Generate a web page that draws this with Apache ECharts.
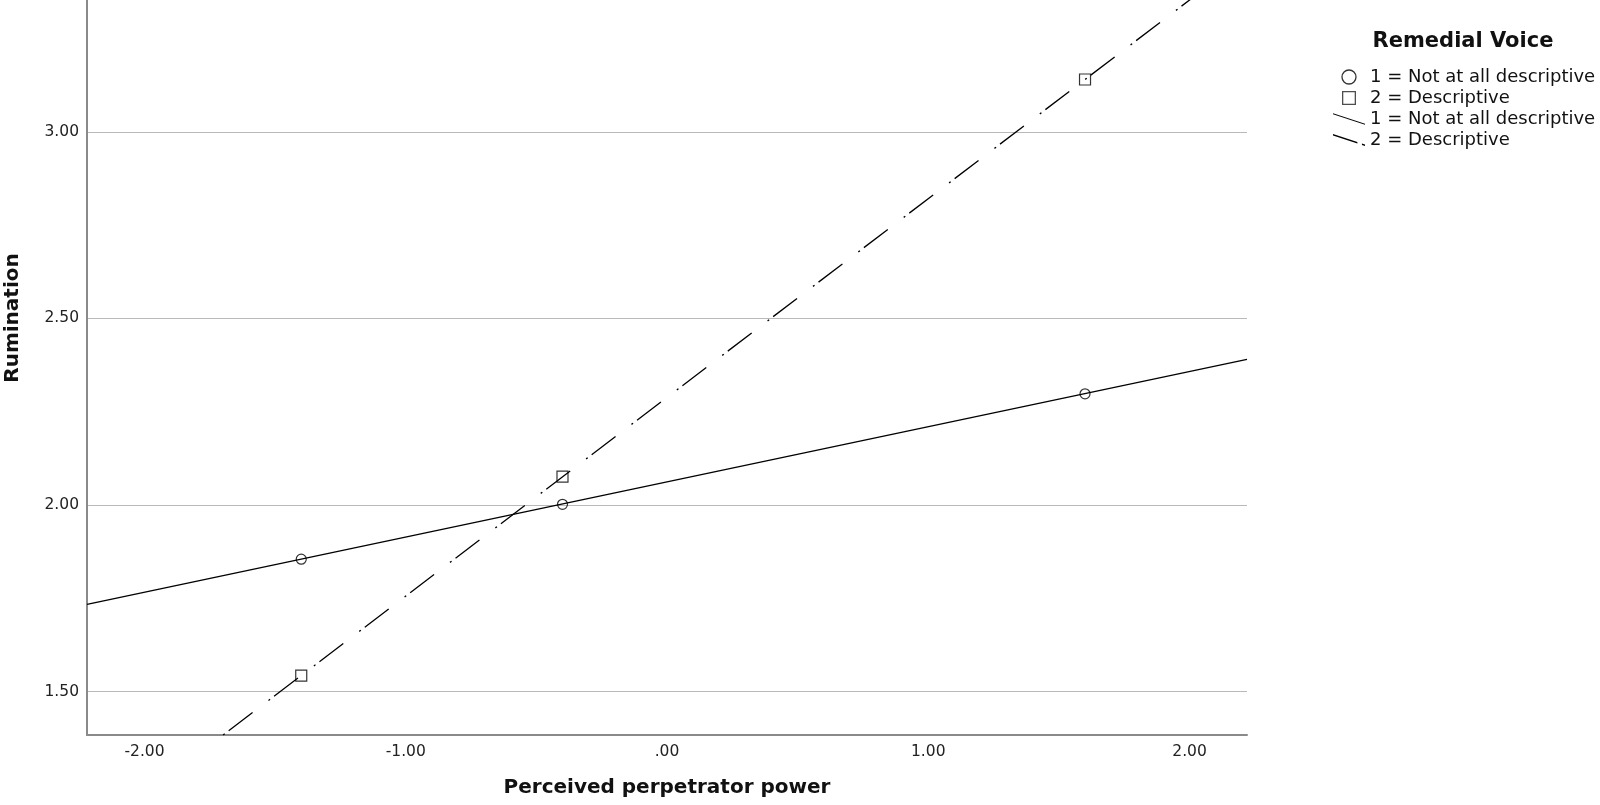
<!DOCTYPE html>
<html>
<head>
<meta charset="utf-8">
<title>Rumination by perceived perpetrator power</title>
<script src="https://cdn.jsdelivr.net/npm/echarts@6/dist/echarts.min.js"></script>
<style>
  html, body { margin: 0; padding: 0; background: #fff; }
  #chart { width: 1600px; height: 805px; }
</style>
</head>
<body>
<div id="chart"></div>
<script>
// values
var pointX = [-1.40, -0.40, 1.60];
var notDescPoints = [1.855, 2.002, 2.298];   // 1 = Not at all descriptive
var descPoints = [1.543, 2.076, 3.140];      // 2 = Descriptive

// fit lines, ends at the x-axis limits
var fitX = [-2.22, 2.22];
var notDescFit = [1.734, 2.390];
var descFit = [1.107, 3.470];

var xRange = [-2.22, 2.22];
var yRange = [1.384, 3.353];

var legendLabels = {
    c1: '1 = Not at all descriptive',
    s2: '2 = Descriptive',
    l1: '1 = Not at all descriptive',
    l2: '2 = Descriptive'
};

function pairs(xs, ys) {
    var out = [];
    for (var i = 0; i < xs.length; i++) out.push([xs[i], ys[i]]);
    return out;
}

var font = 'DejaVu Sans';
var chart = echarts.init(document.getElementById('chart'));

var option = {
    animation: false,
    backgroundColor: '#fff',
    textStyle: { fontFamily: font },
    grid: { left: 87, right: 353, top: 0, bottom: 70, outerBoundsMode: 'none' },
    graphic: [
        {
            type: 'text', x: 1463, y: 42,
            style: {
                text: 'Remedial Voice', fontSize: 21, fontWeight: 'bold', fontFamily: font,
                fill: '#111', align: 'center', verticalAlign: 'middle'
            }
        },
        {
            type: 'text', x: 13, y: 318, rotation: Math.PI / 2,
            style: {
                text: 'Rumination', fontSize: 20, fontWeight: 'bold', fontFamily: font,
                fill: '#111', align: 'center', verticalAlign: 'middle'
            }
        }
    ],
    legend: {
        orient: 'vertical',
        left: 1328,
        top: 63,
        itemWidth: 32,
        itemHeight: 14,
        itemGap: 3,
        symbolKeepAspect: true,
        selectedMode: false,
        textStyle: { fontSize: 18, color: '#111', fontFamily: font },
        formatter: function (name) { return legendLabels[name]; },
        data: [
            { name: 'c1', icon: 'circle', itemStyle: { color: 'rgba(0,0,0,0)', borderColor: '#000', borderWidth: 1.3 } },
            { name: 's2', icon: 'path://M0,0 L14,0 L14,14 L0,14 Z M1.3,1.3 L1.3,12.7 L12.7,12.7 L12.7,1.3 Z', itemStyle: { color: '#222', borderWidth: 0 } },
            { name: 'l1', icon: 'path://M0,0 L35,11.5 L35,12.8 L0,1.3 Z', itemStyle: { color: '#000', borderWidth: 0 } },
            { name: 'l2', icon: 'path://M0,0 L24,7.9 L24,9.2 L0,1.3 Z M28.5,9.4 L31.5,10.4 L31.5,11.7 L28.5,10.7 Z', itemStyle: { color: '#000', borderWidth: 0 } }
        ]
    },
    xAxis: {
        type: 'value',
        min: xRange[0],
        max: xRange[1],
        splitNumber: 5,
        name: 'Perceived perpetrator power',
        nameLocation: 'middle',
        nameGap: 43,
        nameTextStyle: { fontSize: 20, fontWeight: 'bold', color: '#111', fontFamily: font },
        axisLine: { onZero: false, lineStyle: { color: '#8a8a8a', width: 2 } },
        axisTick: { show: false },
        splitLine: { show: false },
        axisLabel: {
            showMinLabel: false,
            showMaxLabel: false,
            margin: 9,
            fontSize: 15.5,
            color: '#222',
            formatter: function (v) { return v === 0 ? '.00' : v.toFixed(2); }
        }
    },
    yAxis: {
        type: 'value',
        min: yRange[0],
        max: yRange[1],
        splitNumber: 4,
        axisLine: { show: true, onZero: false, lineStyle: { color: '#8a8a8a', width: 2 } },
        axisTick: { show: false },
        splitLine: { show: true, showMinLine: false, showMaxLine: false, lineStyle: { color: '#b9b9b9', width: 1 } },
        axisLabel: {
            showMinLabel: false,
            showMaxLabel: false,
            margin: 8,
            fontSize: 15.5,
            color: '#222',
            formatter: function (v) { return v.toFixed(2); }
        }
    },
    series: [
        {
            name: 'l1', type: 'line', data: pairs(fitX, notDescFit),
            showSymbol: false, color: '#000', clip: true,
            lineStyle: { color: '#000', width: 1.3, type: 'solid' }, z: 2
        },
        {
            name: 'l2', type: 'line', data: pairs(fitX, descFit),
            showSymbol: false, color: '#000', clip: true,
            lineStyle: { color: '#000', width: 1.3, type: [2, 5, 30, 20] }, z: 2
        },
        {
            name: 'c1', type: 'scatter', data: pairs(pointX, notDescPoints),
            symbol: 'circle', symbolSize: 10, z: 3,
            itemStyle: { color: 'rgba(0,0,0,0)', borderColor: '#000', borderWidth: 1.2 }
        },
        {
            name: 's2', type: 'scatter', data: pairs(pointX, descPoints),
            symbol: 'rect', symbolSize: 11, z: 3,
            itemStyle: { color: 'rgba(0,0,0,0)', borderColor: '#000', borderWidth: 1.2 }
        }
    ]
};

chart.setOption(option);
</script>
</body>
</html>
